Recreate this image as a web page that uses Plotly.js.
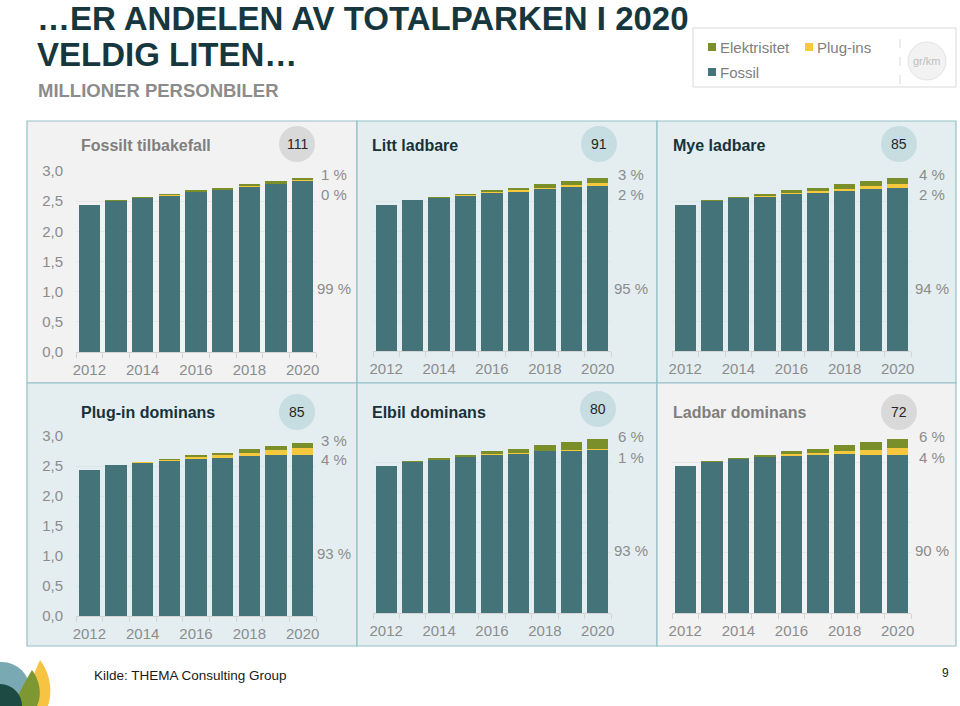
<!DOCTYPE html>
<html>
<head>
<meta charset="utf-8">
<script src="https://cdn.plot.ly/plotly-3.0.1.min.js"></script>
<style>html,body{margin:0;padding:0;background:#fff;}#chart{width:960px;height:706px;}</style>
</head>
<body>
<div id="chart"></div>
<script>
// ---------------- DATA ----------------
const years = [2012, 2013, 2014, 2015, 2016, 2017, 2018, 2019, 2020];
const xTickLabels = ['2012', '2014', '2016', '2018', '2020'];
const yTickLabels = ['0,0', '0,5', '1,0', '1,5', '2,0', '2,5', '3,0'];

const scenarioNames = ['Fossilt tilbakefall', 'Litt ladbare', 'Mye ladbare', 'Plug-in dominans', 'Elbil dominans', 'Ladbar dominans'];
const gramPerKm = [111, 91, 85, 85, 80, 72];
const elShare2020 = ['1 %', '3 %', '4 %', '3 %', '6 %', '6 %'];
const plugShare2020 = ['0 %', '2 %', '2 %', '4 %', '1 %', '4 %'];
const fossilShare2020 = ['99 %', '95 %', '94 %', '93 %', '93 %', '90 %'];

// Fossilt tilbakefall
const fossil_ft = [2.435, 2.506, 2.548, 2.593, 2.648, 2.683, 2.739, 2.785, 2.840];
const plug_ft   = [0.000, 0.001, 0.002, 0.003, 0.004, 0.005, 0.006, 0.007, 0.008];
const el_ft     = [0.005, 0.013, 0.020, 0.024, 0.028, 0.032, 0.035, 0.038, 0.042];
// Litt ladbare
const fossil_ll = [2.437, 2.510, 2.550, 2.590, 2.632, 2.651, 2.695, 2.728, 2.757];
const plug_ll   = [0.000, 0.000, 0.003, 0.008, 0.015, 0.025, 0.030, 0.035, 0.050];
const el_ll     = [0.003, 0.010, 0.017, 0.022, 0.033, 0.044, 0.055, 0.067, 0.083];
// Mye ladbare
const fossil_ml = [2.435, 2.505, 2.542, 2.572, 2.615, 2.635, 2.672, 2.705, 2.720];
const plug_ml   = [0.000, 0.000, 0.003, 0.015, 0.025, 0.025, 0.035, 0.045, 0.060];
const el_ml     = [0.005, 0.015, 0.025, 0.033, 0.040, 0.060, 0.073, 0.080, 0.110];
// Plug-in dominans
const fossil_pd = [2.440, 2.512, 2.550, 2.576, 2.614, 2.630, 2.670, 2.680, 2.690];
const plug_pd   = [0.000, 0.003, 0.010, 0.022, 0.033, 0.050, 0.055, 0.083, 0.117];
const el_pd     = [0.000, 0.005, 0.010, 0.022, 0.033, 0.040, 0.055, 0.067, 0.083];
// Elbil dominans
const fossil_ed = [2.437, 2.505, 2.542, 2.580, 2.620, 2.642, 2.680, 2.682, 2.695];
const plug_ed   = [0.000, 0.000, 0.000, 0.002, 0.010, 0.011, 0.011, 0.020, 0.028];
const el_ed     = [0.003, 0.015, 0.028, 0.038, 0.050, 0.067, 0.089, 0.128, 0.167];
// Ladbar dominans
const fossil_ld = [2.440, 2.510, 2.545, 2.582, 2.603, 2.614, 2.636, 2.619, 2.612];
const plug_ld   = [0.000, 0.000, 0.000, 0.005, 0.033, 0.039, 0.055, 0.083, 0.117];
const el_ld     = [0.000, 0.010, 0.025, 0.033, 0.044, 0.067, 0.089, 0.128, 0.161];

const seriesNames = ['Elektrisitet', 'Plug-ins', 'Fossil'];

// ---------------- STYLE / LAYOUT ----------------
const W = 960, H = 706;
const FONT = 'Liberation Sans, Arial, Helvetica, sans-serif';
const C_FOSSIL = '#44747a', C_PLUG = '#f6c83e', C_EL = '#7a8f29';
const BG_GRAY = '#f2f2f2', BG_BLUE = '#e4eef0';
const BORDER = '#93c0c7';
const px = x => x / W;
const py = y => 1 - y / H;

const dataSets = [
  [fossil_ft, plug_ft, el_ft], [fossil_ll, plug_ll, el_ll], [fossil_ml, plug_ml, el_ml],
  [fossil_pd, plug_pd, el_pd], [fossil_ed, plug_ed, el_ed], [fossil_ld, plug_ld, el_ld]
];

const panels = [
  {x0: 27, x1: 357, y0: 121, y1: 383, ax0: 76, ax1: 316, ay0: 171, ay1: 352, bg: BG_GRAY, circ: '#d9d9d9', tcol: '#7f7f7f', tx: 79, ty: 145, cx: 297, cy: 144, lx: 334, ly: [174, 195, 288], yl: true},
  {x0: 357, x1: 657, y0: 121, y1: 383, ax0: 373, ax1: 611, ay0: 171, ay1: 351, bg: BG_BLUE, circ: '#c6dde2', tcol: '#17323a', tx: 370, ty: 145, cx: 599, cy: 144, lx: 631, ly: [174, 195, 288], yl: false},
  {x0: 657, x1: 956, y0: 121, y1: 383, ax0: 672, ax1: 911, ay0: 171, ay1: 351, bg: BG_BLUE, circ: '#c6dde2', tcol: '#17323a', tx: 671, ty: 145, cx: 899, cy: 144, lx: 932, ly: [174, 195, 288], yl: false},
  {x0: 27, x1: 357, y0: 383, y1: 646, ax0: 76, ax1: 316, ay0: 436, ay1: 616, bg: BG_BLUE, circ: '#c6dde2', tcol: '#17323a', tx: 79, ty: 412, cx: 297, cy: 412, lx: 334, ly: [440, 460, 553], yl: true},
  {x0: 357, x1: 657, y0: 383, y1: 646, ax0: 373, ax1: 611, ay0: 432, ay1: 613, bg: BG_BLUE, circ: '#c6dde2', tcol: '#17323a', tx: 370, ty: 412, cx: 598, cy: 409, lx: 631, ly: [436, 457, 550], yl: false},
  {x0: 657, x1: 956, y0: 383, y1: 646, ax0: 672, ax1: 911, ay0: 432, ay1: 613, bg: BG_GRAY, circ: '#d9d9d9', tcol: '#7f7f7f', tx: 671, ty: 412, cx: 899, cy: 412, lx: 932, ly: [436, 457, 550], yl: false}
];

const traces = [];
const layout = {
  width: W, height: H,
  margin: {l: 0, r: 0, t: 0, b: 0},
  paper_bgcolor: '#ffffff', plot_bgcolor: 'rgba(0,0,0,0)',
  barmode: 'stack', bargap: 0.19,
  showlegend: false,
  separators: ', ',
  font: {family: FONT, color: '#8c8c8c', size: 15},
  shapes: [], annotations: []
};

panels.forEach((p, i) => {
  const k = i + 1;
  const xa = k === 1 ? 'x' : 'x' + k;
  const ya = k === 1 ? 'y' : 'y' + k;
  const [fo, pl, el] = dataSets[i];
  const cols = [C_FOSSIL, C_PLUG, C_EL];
  const names = [seriesNames[2], seriesNames[1], seriesNames[0]];
  [fo, pl, el].forEach((vals, j) => {
    traces.push({type: 'bar', x: years, y: vals, name: names[j], xaxis: xa, yaxis: ya,
      marker: {color: cols[j], line: {width: 0}}, hoverinfo: 'skip'});
  });
  const gridc = p.bg === BG_GRAY ? '#e6e6e6' : '#d9e6e9';
  layout['xaxis' + (k === 1 ? '' : k)] = {
    domain: [px(p.ax0), px(p.ax1)], anchor: ya, range: [2011.5, 2020.5],
    tickvals: [2012, 2014, 2016, 2018, 2020], ticktext: xTickLabels,
    ticks: '', showgrid: false, zeroline: false,
    showline: true, linecolor: '#d4d4d4', linewidth: 1,
    minor: {tick0: 2011.5, dtick: 1, ticks: 'outside', ticklen: 5, tickcolor: '#d4d4d4', showgrid: false},
    tickfont: {family: FONT, size: 15, color: '#8c8c8c'}, ticklabelstandoff: 4, fixedrange: true
  };
  layout['yaxis' + (k === 1 ? '' : k)] = {
    domain: [py(p.ay1), py(p.ay0)], anchor: xa, range: [0, 3.0],
    tickvals: [0, 0.5, 1, 1.5, 2, 2.5, 3], ticktext: yTickLabels,
    showticklabels: p.yl, ticks: '', showgrid: true, gridcolor: gridc, gridwidth: 1,
    zeroline: false, showline: false,
    tickfont: {family: FONT, size: 15, color: '#8c8c8c'}, ticklabelstandoff: 12, fixedrange: true
  };
  // panel background
  layout.shapes.push({type: 'rect', xref: 'paper', yref: 'paper', layer: 'below',
    x0: px(p.x0), x1: px(p.x1), y0: py(p.y1), y1: py(p.y0),
    fillcolor: p.bg, line: {color: BORDER, width: 1.2}});
  // badge circle
  layout.shapes.push({type: 'circle', xref: 'paper', yref: 'paper', layer: 'below',
    x0: px(p.cx - 18), x1: px(p.cx + 18), y0: py(p.cy + 18), y1: py(p.cy - 18),
    fillcolor: p.circ, line: {width: 0}});
  layout.annotations.push({xref: 'paper', yref: 'paper', x: px(p.cx), y: py(p.cy),
    text: String(gramPerKm[i]), showarrow: false, xanchor: 'center', yanchor: 'middle',
    font: {family: FONT, size: 14, color: '#262626'}});
  // panel title
  layout.annotations.push({xref: 'paper', yref: 'paper', x: px(p.tx), y: py(p.ty),
    text: '<b>' + scenarioNames[i] + '</b>', showarrow: false, xanchor: 'left', yanchor: 'middle',
    font: {family: FONT, size: 16, color: p.tcol}});
  // share labels 2020
  [elShare2020[i], plugShare2020[i], fossilShare2020[i]].forEach((t, j) => {
    layout.annotations.push({xref: 'paper', yref: 'paper', x: px(p.lx), y: py(p.ly[j]),
      text: t, showarrow: false, xanchor: 'center', yanchor: 'middle',
      font: {family: FONT, size: 15, color: '#8c8c8c'}});
  });
});

// Slide title and subtitle
layout.annotations.push({xref: 'paper', yref: 'paper', x: px(35), y: py(18), showarrow: false,
  xanchor: 'left', yanchor: 'middle', text: '<b>…ER ANDELEN AV TOTALPARKEN I 2020</b>',
  font: {family: FONT, size: 33, color: '#17373f'}});
layout.annotations.push({xref: 'paper', yref: 'paper', x: px(35), y: py(55), showarrow: false,
  xanchor: 'left', yanchor: 'middle', text: '<b>VELDIG LITEN…</b>',
  font: {family: FONT, size: 33, color: '#17373f'}});
layout.annotations.push({xref: 'paper', yref: 'paper', x: px(36), y: py(90), showarrow: false,
  xanchor: 'left', yanchor: 'middle', text: '<b>MILLIONER PERSONBILER</b>',
  font: {family: FONT, size: 18.5, color: '#8c8c8c'}});

// Legend box
layout.shapes.push({type: 'rect', xref: 'paper', yref: 'paper', layer: 'below',
  x0: px(693), x1: px(956), y0: py(87), y1: py(28), fillcolor: '#ffffff', line: {color: '#d9d9d9', width: 1}});
layout.shapes.push({type: 'line', xref: 'paper', yref: 'paper', layer: 'below',
  x0: px(900), x1: px(900), y0: py(84), y1: py(33), line: {color: '#d9d9d9', width: 1, dash: 'dash'}});
layout.shapes.push({type: 'circle', xref: 'paper', yref: 'paper', layer: 'below',
  x0: px(908), x1: px(946), y0: py(80), y1: py(42), fillcolor: '#f2f2f2', line: {color: '#e3e3e3', width: 1}});
layout.annotations.push({xref: 'paper', yref: 'paper', x: px(927), y: py(61), showarrow: false,
  xanchor: 'center', yanchor: 'middle', text: 'gr/km', font: {family: FONT, size: 11, color: '#bfbfbf'}});
const legendItems = [
  {name: seriesNames[0], color: C_EL, x: 708, y: 47},
  {name: seriesNames[1], color: C_PLUG, x: 805, y: 47},
  {name: seriesNames[2], color: C_FOSSIL, x: 708, y: 72}
];
legendItems.forEach(it => {
  layout.shapes.push({type: 'rect', xref: 'paper', yref: 'paper',
    x0: px(it.x), x1: px(it.x + 8), y0: py(it.y + 4), y1: py(it.y - 4), fillcolor: it.color, line: {width: 0}});
  layout.annotations.push({xref: 'paper', yref: 'paper', x: px(it.x + 10), y: py(it.y), showarrow: false,
    xanchor: 'left', yanchor: 'middle', text: it.name, font: {family: FONT, size: 15, color: '#808080'}});
});

// Footer
layout.annotations.push({xref: 'paper', yref: 'paper', x: px(92), y: py(675), showarrow: false,
  xanchor: 'left', yanchor: 'middle', text: 'Kilde: THEMA Consulting Group', font: {family: FONT, size: 13.5, color: '#1a1a1a'}});
layout.annotations.push({xref: 'paper', yref: 'paper', x: px(951), y: py(673), showarrow: false,
  xanchor: 'right', yanchor: 'middle', text: '9', font: {family: FONT, size: 12, color: '#1a1a1a'}});

// Logo (bottom-left)
function pathPx(pts) {
  return pts.map(s => s.replace(/(-?\d+(?:\.\d+)?),(-?\d+(?:\.\d+)?)/g, (m, a, b) => px(+a).toFixed(5) + ',' + py(+b).toFixed(5))).join(' ');
}
layout.shapes.push({type: 'circle', xref: 'paper', yref: 'paper', x0: px(-26), x1: px(30), y0: py(718), y1: py(662), fillcolor: '#79aab3', line: {width: 0}});
layout.shapes.push({type: 'path', xref: 'paper', yref: 'paper', fillcolor: '#f6c343', line: {width: 0},
  path: pathPx(['M 18,706', 'C 30,690 34,672 40,660', 'C 52,676 52,694 48,706', 'Z'])});
layout.shapes.push({type: 'path', xref: 'paper', yref: 'paper', fillcolor: '#7d9733', line: {width: 0},
  path: pathPx(['M 12,706', 'C 20,692 26,680 32,670', 'C 42,684 41,698 37,706', 'Z'])});
layout.shapes.push({type: 'circle', xref: 'paper', yref: 'paper', x0: px(-22), x1: px(22), y0: py(728), y1: py(684), fillcolor: '#1d4a43', line: {width: 0}});

Plotly.newPlot('chart', traces, layout, {displayModeBar: false, staticPlot: true});
</script>
</body>
</html>
